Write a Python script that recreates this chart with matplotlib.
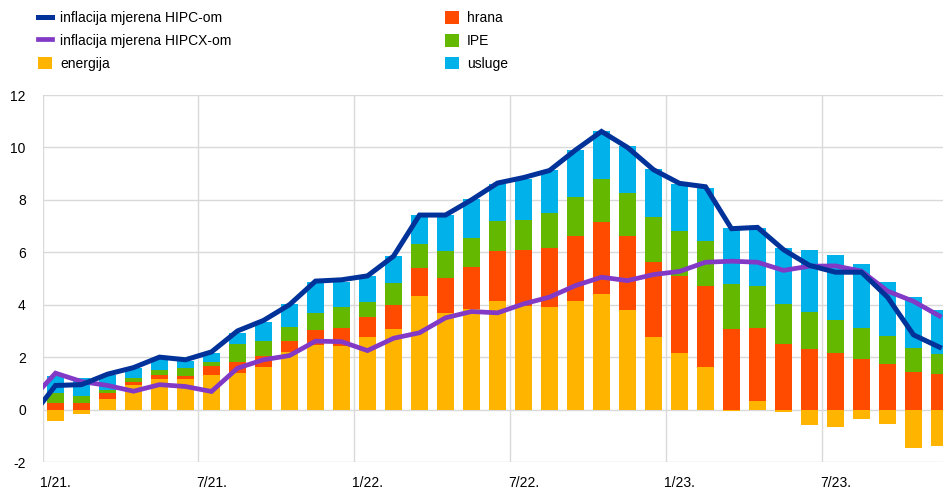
import matplotlib
matplotlib.use('Agg')
import matplotlib.pyplot as plt
import numpy as np

plt.rcParams['font.family'] = ['Liberation Sans', 'DejaVu Sans']
plt.rcParams['axes.unicode_minus'] = False

# months Jan 2021 - Nov 2023
months = ['%d/%d.' % (m, y) for y in (21, 22, 23) for m in range(1, 13)][:35]

energija = [-0.42, -0.16, 0.41, 0.94, 1.15, 1.15, 1.31, 1.41, 1.62, 2.18, 2.47, 2.44,
            2.77, 3.09, 4.33, 3.68, 3.84, 4.16, 3.97, 3.93, 4.16, 4.41, 3.79, 2.75,
            2.14, 1.62, -0.05, 0.34, -0.10, -0.60, -0.65, -0.35, -0.55, -1.45, -1.40]
hrana = [0.24, 0.24, 0.23, 0.13, 0.17, 0.13, 0.34, 0.42, 0.42, 0.43, 0.57, 0.69,
         0.77, 0.91, 1.06, 1.35, 1.59, 1.88, 2.11, 2.23, 2.47, 2.74, 2.84, 2.89,
         2.96, 3.09, 3.08, 2.76, 2.49, 2.32, 2.15, 1.93, 1.73, 1.45, 1.36]
ipe = [0.38, 0.28, 0.11, 0.13, 0.19, 0.31, 0.15, 0.67, 0.56, 0.55, 0.64, 0.79,
       0.57, 0.81, 0.92, 1.01, 1.12, 1.16, 1.16, 1.34, 1.47, 1.63, 1.64, 1.71,
       1.71, 1.73, 1.72, 1.61, 1.53, 1.42, 1.27, 1.19, 1.07, 0.89, 0.75]
usluge = [0.66, 0.68, 0.55, 0.39, 0.42, 0.25, 0.35, 0.43, 0.73, 0.86, 1.17, 0.95,
          0.97, 1.04, 1.11, 1.38, 1.47, 1.40, 1.56, 1.62, 1.81, 1.83, 1.77, 1.82,
          1.80, 2.03, 2.11, 2.22, 2.15, 2.33, 2.47, 2.44, 2.05, 1.97, 1.69]

# lines start one month earlier (Dec 2020), clipped at the axis edge
hipc = [-0.36, 0.92, 0.95, 1.35, 1.6, 2.0, 1.9, 2.2, 3.0, 3.4, 4.0, 4.9, 4.95,
        5.1, 5.85, 7.42, 7.42, 8.0, 8.64, 8.85, 9.12, 9.9, 10.61, 10.0, 9.15,
        8.63, 8.5, 6.9, 6.95, 6.1, 5.5, 5.24, 5.24, 4.29, 2.85, 2.38]
hipcx = [0.31, 1.39, 1.07, 0.92, 0.7, 0.95, 0.88, 0.69, 1.58, 1.9, 2.06, 2.61, 2.59,
         2.25, 2.72, 2.93, 3.5, 3.74, 3.69, 4.03, 4.29, 4.73, 5.05, 4.92, 5.15,
         5.27, 5.62, 5.66, 5.62, 5.31, 5.47, 5.48, 5.28, 4.52, 4.13, 3.57]

c_en, c_fo, c_ipe, c_us = '#ffb400', '#ff4b00', '#65b800', '#00b1ea'
c_hipc, c_hipcx = '#003299', '#8139c6'

x = np.arange(len(months))
en = np.array(energija)
fo = np.array(hrana)
ip = np.array(ipe)
us = np.array(usluge)

# positive parts stack up from zero, negative energy below zero
pos_en = np.clip(en, 0, None)
base_fo = pos_en
base_ip = base_fo + fo
base_us = base_ip + ip

fig = plt.figure(figsize=(9.43, 4.90), dpi=100)
ax = fig.add_axes([42.5 / 943, 28 / 490, 910 / 943, 367 / 490])

w = 0.65
ax.bar(x, en, w, color=c_en, label='energija', zorder=2)
ax.bar(x, fo, w, bottom=base_fo, color=c_fo, label='hrana', zorder=2)
ax.bar(x, ip, w, bottom=base_ip, color=c_ipe, label='IPE', zorder=2)
ax.bar(x, us, w, bottom=base_us, color=c_us, label='usluge', zorder=2)

xl = np.arange(-1, len(months))
l1, = ax.plot(xl, hipc, color=c_hipc, lw=3.6, zorder=4, solid_joinstyle='miter',
              label='inflacija mjerena HIPC-om')
l2, = ax.plot(xl, hipcx, color=c_hipcx, lw=3.4, zorder=3, solid_joinstyle='miter',
              label='inflacija mjerena HIPCX-om')

ax.set_xlim(-0.5, len(months) - 0.5)
ax.set_ylim(-2, 12)
ax.set_yticks(np.arange(-2, 13, 2))
ax.set_xticks(x[::6])
ax.set_xticklabels(months[::6])
ax.set_xticks(np.arange(-0.5, len(months), 6), minor=True)

ax.grid(axis='y', color='#d9d9d9', lw=1, zorder=0)
ax.grid(axis='x', which='minor', color='#d9d9d9', lw=1, zorder=0)
ax.grid(axis='x', which='major', visible=False)
for s in ax.spines.values():
    s.set_visible(False)
ax.tick_params(axis='both', which='both', length=0, labelsize=10, colors='#000000')
ax.tick_params(axis='y', pad=12)
ax.tick_params(axis='x', pad=10)

h, lab = ax.get_legend_handles_labels()
hd = dict(zip(lab, h))
leg_kw = dict(frameon=False, fontsize=10, borderpad=0, borderaxespad=0,
              handlelength=1.0, handleheight=1.05, handletextpad=0.6,
              labelspacing=0.62)
fig.legend([l1, l2, hd['energija']],
           ['inflacija mjerena HIPC-om', 'inflacija mjerena HIPCX-om', 'energija'],
           loc='upper left', bbox_to_anchor=(38 / 943, 1 - 11 / 490), **leg_kw)
fig.legend([hd['hrana'], hd['IPE'], hd['usluge']], ['hrana', 'IPE', 'usluge'],
           loc='upper left', bbox_to_anchor=(445 / 943, 1 - 11 / 490), **leg_kw)

fig.savefig('out.png', dpi=100)
